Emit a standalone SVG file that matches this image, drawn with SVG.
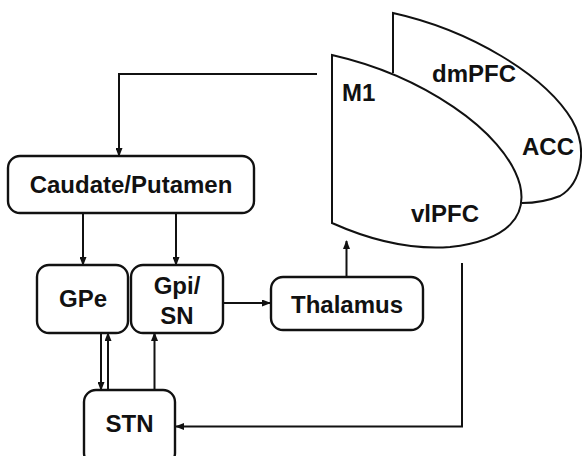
<svg xmlns="http://www.w3.org/2000/svg" width="582" height="456" viewBox="0 0 582 456">
<style>
.box{fill:#fff;stroke:#111;stroke-width:2.4}
.ctx{fill:#fff;stroke:#111;stroke-width:2}
.lbl{font-family:"Liberation Sans",Arial,sans-serif;font-weight:bold;font-size:24px;fill:#111}
.mid{text-anchor:middle}
.con{fill:none;stroke:#111;stroke-width:2}
</style>
<defs>
<marker id="ah" markerUnits="userSpaceOnUse" markerWidth="9" markerHeight="7" refX="8" refY="3.5" orient="auto">
<path d="M0,0 L9,3.5 L0,7 z" fill="#111"/>
</marker>
</defs>
<rect width="582" height="456" fill="#fff"/>
<g id="cortex">
<g id="back">
<path class="ctx" d="M393,73 L393,13 C470,30 545,75 572,120 C588,148 582,183 560,196 C545,202 530,203 522,203"/>
<text class="lbl" x="432" y="82">dmPFC</text>
<text class="lbl" x="522" y="155">ACC</text>
</g>
<g id="front">
<path class="ctx" d="M332,55 C420,75 505,130 520,185 C527,215 510,240 450,247 C410,250 370,240 332,223 Z"/>
<text class="lbl" x="342" y="101">M1</text>
<text class="lbl" x="411" y="222">vlPFC</text>
</g>
</g>
<g id="caudate">
<rect class="box" x="8" y="156" width="246" height="57" rx="12"/>
<text class="lbl mid" x="131" y="193">Caudate/Putamen</text>
</g>
<g id="gpe">
<rect class="box" x="37" y="265" width="91" height="68" rx="12"/>
<text class="lbl mid" x="83" y="307">GPe</text>
</g>
<g id="gpi">
<rect class="box" x="131" y="265" width="92" height="68" rx="12"/>
<text class="lbl mid" x="177" y="294">Gpi/</text>
<text class="lbl mid" x="177" y="324">SN</text>
</g>
<g id="thalamus">
<rect class="box" x="271" y="277" width="152" height="53" rx="12"/>
<text class="lbl mid" x="347" y="313">Thalamus</text>
</g>
<g id="stn">
<rect class="box" x="84" y="390" width="91" height="75" rx="12"/>
<text class="lbl mid" x="129.5" y="432">STN</text>
</g>
<g id="connectors">
<path class="con" d="M317,74 H119 V156" marker-end="url(#ah)"/>
<path class="con" d="M83,213 V265" marker-end="url(#ah)"/>
<path class="con" d="M176,213 V265" marker-end="url(#ah)"/>
<path class="con" d="M223,303 H270" marker-end="url(#ah)"/>
<path class="con" d="M346.5,277 V241" marker-end="url(#ah)"/>
<path class="con" d="M101,333 V390" marker-end="url(#ah)"/>
<path class="con" d="M108,390 V333" marker-end="url(#ah)"/>
<path class="con" d="M154.5,390 V333" marker-end="url(#ah)"/>
<path class="con" d="M462,263 V426.5 H176" marker-end="url(#ah)"/>
</g>
</svg>
